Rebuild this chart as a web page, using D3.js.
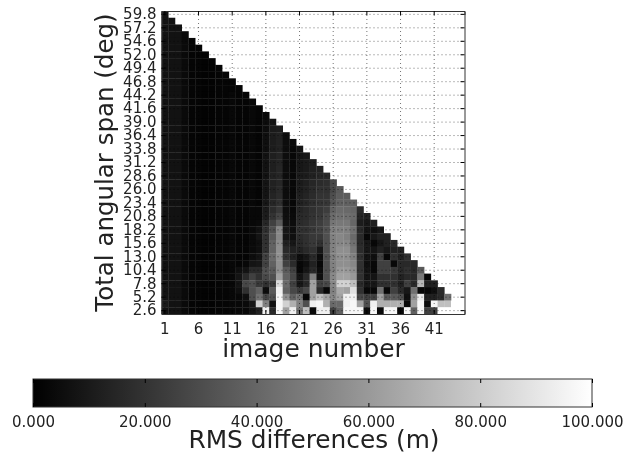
<!DOCTYPE html>
<html>
<head>
<meta charset="utf-8">
<script src="https://cdn.jsdelivr.net/npm/d3@7"></script>
<style>
  html, body { margin: 0; padding: 0; background: #fff; }
  svg { display: block; filter: blur(0.7px); }
  text { font-family: "DejaVu Sans", sans-serif; fill: #222; }
</style>
</head>
<body>
<div id="chart"></div>
<script>
var width = 633, height = 453;

// image number per column, total span per row (top row first)
var imageNumbers = d3.range(1, 46);
var spanRows = d3.range(45).map(function(i) { return (59.8 - 1.3 * i).toFixed(1); });

var xTickLabels = [1, 6, 11, 16, 21, 26, 31, 36, 41];
var yTickLabels = ["59.8", "57.2", "54.6", "52.0", "49.4", "46.8", "44.2", "41.6", "39.0", "36.4", "33.8", "31.2",
  "28.6", "26.0", "23.4", "20.8", "18.2", "15.6", "13.0", "10.4", "7.8", "5.2", "2.6"];
var barTicks = [0, 20, 40, 60, 80, 100];

// RMS differences (m), one list per row, top row first
var rmsRows = [
  [8],
  [8, 7],
  [8, 7, 7],
  [8, 7, 7, 4],
  [7, 7, 7, 4, 2],
  [7, 7, 7, 4, 2, 2],
  [7, 7, 7, 4, 2, 2, 1],
  [7, 7, 7, 4, 2, 2, 1, 1],
  [7, 7, 7, 4, 2, 2, 1, 1, 2],
  [7, 7, 7, 4, 2, 2, 1, 1, 2, 2],
  [7, 7, 7, 4, 2, 2, 1, 1, 2, 2, 2],
  [7, 7, 7, 4, 2, 2, 1, 1, 2, 2, 2, 2],
  [7, 7, 7, 4, 2, 2, 1, 1, 2, 2, 3, 2, 2],
  [7, 7, 7, 4, 2, 2, 1, 1, 2, 2, 3, 2, 2, 3],
  [7, 7, 7, 4, 2, 2, 1, 1, 2, 2, 3, 2, 2, 3, 2],
  [7, 7, 7, 4, 2, 2, 1, 1, 2, 2, 3, 2, 2, 3, 2, 4],
  [7, 7, 7, 4, 2, 2, 1, 1, 2, 2, 3, 2, 2, 3, 2, 5, 8],
  [7, 7, 7, 4, 2, 2, 1, 1, 2, 2, 3, 2, 2, 3, 2, 5, 10, 11],
  [7, 7, 7, 4, 2, 2, 1, 1, 2, 2, 3, 2, 2, 3, 2, 6, 11, 13, 5],
  [7, 7, 7, 4, 2, 2, 1, 1, 2, 2, 3, 2, 2, 3, 2, 6, 11, 13, 5, 4],
  [7, 7, 7, 4, 2, 2, 1, 1, 2, 2, 3, 2, 2, 3, 2, 6, 11, 13, 5, 3, 8],
  [7, 7, 7, 4, 2, 2, 1, 1, 2, 2, 3, 2, 2, 3, 2, 7, 12, 14, 5, 3, 8, 9],
  [7, 7, 7, 4, 2, 2, 1, 1, 2, 2, 3, 2, 2, 3, 2, 7, 12, 14, 5, 3, 9, 10, 11],
  [7, 7, 7, 4, 2, 2, 1, 1, 2, 2, 3, 2, 2, 3, 2, 7, 12, 15, 5, 3, 9, 10, 12, 13],
  [7, 7, 7, 4, 2, 2, 1, 1, 2, 2, 3, 2, 2, 3, 2, 7, 13, 15, 5, 3, 10, 11, 13, 15, 16],
  [7, 7, 7, 4, 2, 2, 1, 1, 2, 2, 3, 2, 2, 3, 2, 8, 13, 15, 5, 3, 10, 12, 15, 17, 18, 28],
  [7, 7, 7, 4, 2, 2, 1, 1, 2, 2, 3, 2, 2, 3, 2, 8, 13, 16, 5, 3, 11, 13, 16, 19, 19, 28, 35],
  [7, 7, 7, 4, 2, 2, 1, 1, 2, 2, 3, 2, 2, 3, 2, 8, 14, 17, 5, 3, 12, 14, 17, 20, 20, 30, 36, 36],
  [7, 7, 7, 4, 2, 2, 1, 1, 2, 2, 3, 2, 2, 3, 2, 9, 15, 19, 5, 3, 13, 15, 18, 20, 21, 33, 38, 38, 38],
  [7, 7, 7, 4, 2, 2, 1, 1, 2, 2, 3, 2, 2, 3, 3, 10, 17, 22, 5, 3, 14, 16, 19, 21, 24, 38, 42, 41, 40, 17],
  [7, 7, 7, 4, 2, 2, 1, 1, 2, 2, 3, 2, 2, 3, 3, 11, 20, 27, 6, 4, 16, 17, 20, 22, 28, 42, 44, 44, 42, 15, 14],
  [7, 7, 7, 4, 2, 2, 1, 1, 2, 2, 3, 2, 2, 3, 4, 15, 25, 36, 7, 5, 17, 18, 21, 24, 29, 46, 47, 47, 40, 11, 9, 12],
  [7, 7, 7, 4, 2, 2, 1, 1, 2, 2, 3, 2, 2, 4, 7, 19, 31, 53, 9, 6, 19, 19, 22, 25, 31, 50, 50, 50, 44, 16, 8, 6, 9],
  [7, 7, 7, 4, 2, 2, 1, 1, 2, 2, 3, 2, 2, 4, 8, 19, 35, 53, 8, 6, 17, 19, 22, 22, 31, 50, 53, 50, 41, 16, 3, 9, 13, 13],
  [7, 7, 7, 4, 2, 2, 1, 1, 2, 2, 3, 2, 2, 4, 6, 19, 38, 55, 13, 9, 16, 19, 22, 19, 31, 50, 53, 53, 44, 16, 9, 3, 9, 13, 16],
  [7, 7, 7, 4, 2, 2, 1, 1, 2, 2, 3, 2, 2, 4, 6, 19, 38, 56, 16, 13, 13, 16, 19, 9, 31, 50, 56, 56, 47, 17, 9, 8, 13, 9, 13, 13],
  [7, 7, 7, 4, 2, 2, 1, 1, 2, 2, 3, 2, 2, 5, 8, 25, 41, 56, 19, 13, 6, 9, 16, 5, 31, 50, 56, 56, 50, 19, 8, 6, 25, 3, 19, 13, 19],
  [7, 7, 7, 4, 2, 2, 1, 1, 2, 2, 3, 2, 3, 8, 9, 25, 38, 56, 25, 17, 3, 6, 13, 3, 31, 50, 56, 56, 53, 19, 6, 3, 25, 25, 3, 16, 16, 16],
  [7, 7, 7, 4, 2, 2, 1, 1, 2, 2, 3, 6, 8, 16, 16, 31, 35, 56, 35, 25, 3, 9, 16, 5, 31, 50, 60, 60, 56, 19, 8, 3, 25, 25, 22, 16, 19, 16, 35],
  [7, 7, 7, 4, 2, 2, 1, 1, 2, 2, 3, 8, 16, 25, 19, 28, 31, 63, 38, 28, 8, 16, 50, 6, 31, 53, 63, 63, 60, 19, 8, 8, 19, 19, 19, 13, 16, 16, 47, 3],
  [7, 7, 7, 4, 2, 2, 1, 1, 2, 2, 3, 8, 28, 31, 22, 19, 22, 85, 41, 25, 9, 16, 63, 25, 28, 53, 82, 82, 75, 16, 9, 9, 19, 19, 19, 13, 25, 16, 72, 13, 13],
  [7, 7, 7, 4, 2, 2, 1, 1, 2, 2, 3, 6, 19, 31, 38, 5, 35, 94, 38, 28, 22, 28, 63, 16, 3, 50, 66, 63, 88, 19, 3, 3, 44, 3, 25, 16, 9, 44, 3, 3, 6, 16],
  [8, 7, 7, 4, 2, 2, 1, 1, 2, 2, 3, 3, 6, 31, 44, 28, 31, 97, 56, 38, 44, 3, 63, 75, 63, 53, 63, 94, 94, 28, 25, 25, 63, 35, 35, 31, 6, 56, 92, 13, 13, 16, 44],
  [10, 7, 7, 4, 2, 2, 1, 1, 2, 2, 3, 3, 4, 9, 82, 50, 6, 97, 82, 69, 50, 31, 94, 97, 69, 41, 41, 94, 97, 63, 31, 94, 69, 69, 69, 69, 4, 63, 97, 5, 97, 75, 75, 100],
  [7, 7, 7, 4, 2, 2, 1, 1, 2, 2, 3, 3, 3, 8, 13, 94, 16, 97, 63, 94, 44, 75, 3, 94, 94, 25, 38, 97, 97, 97, 5, 97, 4, 97, 97, 3, 97, 38, 97, 25, 25, 100, 100, 100, 100]
];

var svg = d3.select("#chart")
  .append("svg")
    .attr("width", width)
    .attr("height", height);

var x = d3.scaleBand().domain(imageNumbers).range([161.5, 464.5]);
var y = d3.scaleBand().domain(spanRows).range([11, 314]);
var grey = d3.scaleLinear().domain([0, 100]).range(["#000000", "#ffffff"]);

// heat map cells
svg.append("g").selectAll("g")
    .data(rmsRows)
  .enter().append("g")
    .attr("transform", function(d, i) { return "translate(0," + y(spanRows[i]) + ")"; })
  .selectAll("rect")
    .data(function(d) { return d; })
  .enter().append("rect")
    .attr("x", function(d, i) { return x(imageNumbers[i]); })
    .attr("width", x.bandwidth() + 0.3)
    .attr("height", y.bandwidth() + 0.3)
    .attr("fill", function(d) { return grey(d); });

// dotted grid on top of the cells
var grid = svg.append("g")
    .attr("stroke", "#000")
    .attr("stroke-opacity", 0.55)
    .attr("stroke-dasharray", "1,3");

grid.selectAll("line.v")
    .data(xTickLabels)
  .enter().append("line")
    .attr("class", "v")
    .attr("x1", function(d) { return x(d) + x.bandwidth() / 2; })
    .attr("x2", function(d) { return x(d) + x.bandwidth() / 2; })
    .attr("y1", y.range()[0])
    .attr("y2", y.range()[1]);

grid.selectAll("line.h")
    .data(yTickLabels)
  .enter().append("line")
    .attr("class", "h")
    .attr("x1", x.range()[0])
    .attr("x2", x.range()[1])
    .attr("y1", function(d) { return y(d) + y.bandwidth() / 2; })
    .attr("y2", function(d) { return y(d) + y.bandwidth() / 2; });

// axes, ticks point inward
svg.append("g")
    .attr("transform", "translate(0,314)")
    .call(d3.axisBottom(x).tickValues(xTickLabels).tickSize(-4).tickPadding(9))
    .call(styleAxis);

svg.append("g")
    .attr("transform", "translate(161.5,0)")
    .call(d3.axisLeft(y).tickValues(yTickLabels).tickSize(-4).tickPadding(5))
    .call(styleAxis);

svg.append("g")
    .attr("transform", "translate(0,11)")
    .call(d3.axisTop(x).tickValues(xTickLabels).tickSize(-4).tickFormat(""))
    .call(styleAxis);

svg.append("g")
    .attr("transform", "translate(464.5,0)")
    .call(d3.axisRight(y).tickValues(yTickLabels).tickSize(-4).tickFormat(""))
    .call(styleAxis);

function styleAxis(g) {
  g.select(".domain").attr("stroke", "#333");
  g.selectAll(".tick line").attr("stroke", "#000");
  g.selectAll(".tick text")
    .attr("fill", "#222")
    .style("font-family", '"DejaVu Sans", sans-serif')
    .style("font-size", "15px");
}

svg.append("text")
    .attr("x", 313.5)
    .attr("y", 357)
    .attr("text-anchor", "middle")
    .style("font-size", "24.9px")
    .text("image number");

svg.append("text")
    .attr("transform", "translate(113,162.5) rotate(-90)")
    .attr("text-anchor", "middle")
    .style("font-size", "24.5px")
    .text("Total angular span (deg)");

// colour bar
var barScale = d3.scaleLinear().domain([0, 100]).range([33, 592]);

var gradient = svg.append("defs").append("linearGradient")
    .attr("id", "barGrad");
gradient.selectAll("stop")
    .data(barTicks)
  .enter().append("stop")
    .attr("offset", function(d) { return d + "%"; })
    .attr("stop-color", function(d) { return grey(d); });

svg.append("rect")
    .attr("x", barScale(0))
    .attr("y", 379)
    .attr("width", barScale(100) - barScale(0))
    .attr("height", 28)
    .attr("fill", "url(#barGrad)")
    .attr("stroke", "#333");

var barAxis = svg.append("g")
    .attr("transform", "translate(0,407)")
    .call(d3.axisBottom(barScale).tickValues(barTicks).tickSize(-4).tickPadding(9).tickFormat(d3.format(".3f")))
    .call(styleAxis);
barAxis.select(".domain").remove();

svg.append("g")
    .attr("transform", "translate(0,379)")
    .call(d3.axisTop(barScale).tickValues(barTicks).tickSize(-4).tickFormat(""))
    .call(styleAxis)
    .select(".domain").remove();

svg.append("text")
    .attr("x", 314)
    .attr("y", 448)
    .attr("text-anchor", "middle")
    .style("font-size", "24.8px")
    .text("RMS differences (m)");
</script>
</body>
</html>
